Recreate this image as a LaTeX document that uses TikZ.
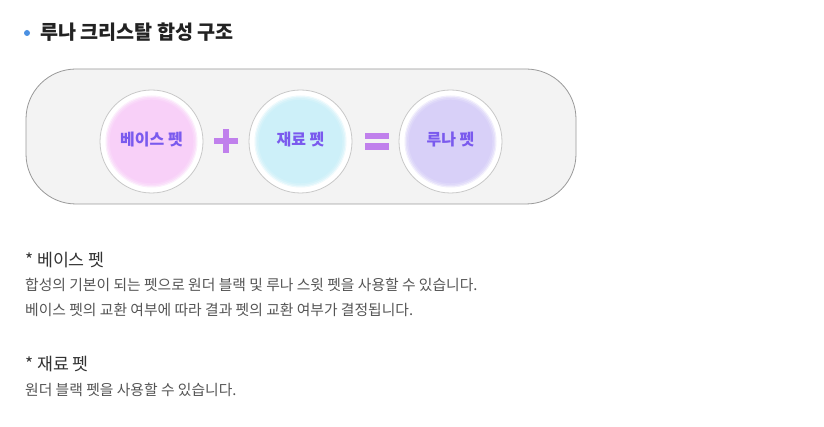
\documentclass[tikz,border=0pt]{standalone}
\usepackage{fontspec}
\setmainfont{Noto Sans CJK KR}
\newfontfamily\kr{Noto Sans CJK KR}
\definecolor{bulletblue}{HTML}{4A90E2}
\definecolor{boxfill}{HTML}{F3F3F3}
\definecolor{boxline}{HTML}{999999}
\definecolor{ringline}{HTML}{C8C8C8}
\definecolor{pinkc}{HTML}{F8D0F8}
\definecolor{cyanc}{HTML}{CDF0F9}
\definecolor{lavc}{HTML}{D8D0F8}
\definecolor{signc}{HTML}{C080EC}
\definecolor{labc}{HTML}{7A5AEE}
\definecolor{titlec}{HTML}{222222}
\definecolor{headc}{HTML}{333333}
\definecolor{bodyc}{HTML}{555555}
\tikzset{
  ring/.style={circle, draw=ringline, fill=white, line width=0.8pt, minimum size=103pt, inner sep=0pt},
  petlabel/.style={font=\kr\fontsize{16}{16}\selectfont\bfseries, text=labc},
  sign/.style={fill=signc, draw=none},
  titletext/.style={anchor=base west, inner sep=0pt, font=\kr\fontsize{19.6}{19.6}\selectfont\bfseries, text=titlec},
  headtext/.style={anchor=base west, inner sep=0pt, font=\kr\fontsize{17.3}{17.3}\selectfont, text=headc},
  bodytext/.style={anchor=base west, inner sep=0pt, font=\kr\fontsize{14.8}{14.8}\selectfont, text=bodyc}
}
\newcommand{\glowdisc}[2]{%
  \fill[#2] (#1) circle (46);
  \draw[white, opacity=0.6, line width=3pt] (#1) circle (46.5);
  \draw[white, opacity=0.35, line width=2pt] (#1) circle (44.5);
  \draw[white, opacity=0.15, line width=2pt] (#1) circle (42.8);
}
\begin{document}
\begin{tikzpicture}[x=1pt,y=-1pt]
\useasboundingbox[fill=white] (0,0) rectangle (824,427);
% title
\fill[bulletblue] (27,33) circle (3);
\node[titletext] (title) at (40,40) {루나 크리스탈 합성 구조};
% container
\draw[fill=boxfill, draw=boxline, line width=0.8pt, rounded corners=50pt] (26,69) rectangle (576,204);
% circles
\node[ring] (c1) at (151.5,141.5) {};
\node[ring] (c2) at (300.5,141.5) {};
\node[ring] (c3) at (450.5,141.5) {};
\glowdisc{c1}{pinkc}
\glowdisc{c2}{cyanc}
\glowdisc{c3}{lavc}
\node[petlabel] (l1) at (151.5,140) {베이스 펫};
\node[petlabel] (l2) at (300.5,140) {재료 펫};
\node[petlabel] (l3) at (450.5,140) {루나 펫};
% plus
\fill[sign] (214,138) rectangle (238,144.5);
\fill[sign] (222.7,129) rectangle (229.3,153);
% equals
\fill[sign] (365,132.7) rectangle (389,139);
\fill[sign] (365,143.5) rectangle (389,150);
% lower text
\node[headtext] (h1) at (25,267) {* 베이스 펫};
\node[bodytext] (b1) at (25,291) {합성의 기본이 되는 펫으로 원더 블랙 및 루나 스윗 펫을 사용할 수 있습니다.};
\node[bodytext] (b2) at (25,316) {베이스 펫의 교환 여부에 따라 결과 펫의 교환 여부가 결정됩니다.};
\node[headtext] (h2) at (25,370) {* 재료 펫};
\node[bodytext] (b3) at (25,395) {원더 블랙 펫을 사용할 수 있습니다.};
\end{tikzpicture}
\end{document}
